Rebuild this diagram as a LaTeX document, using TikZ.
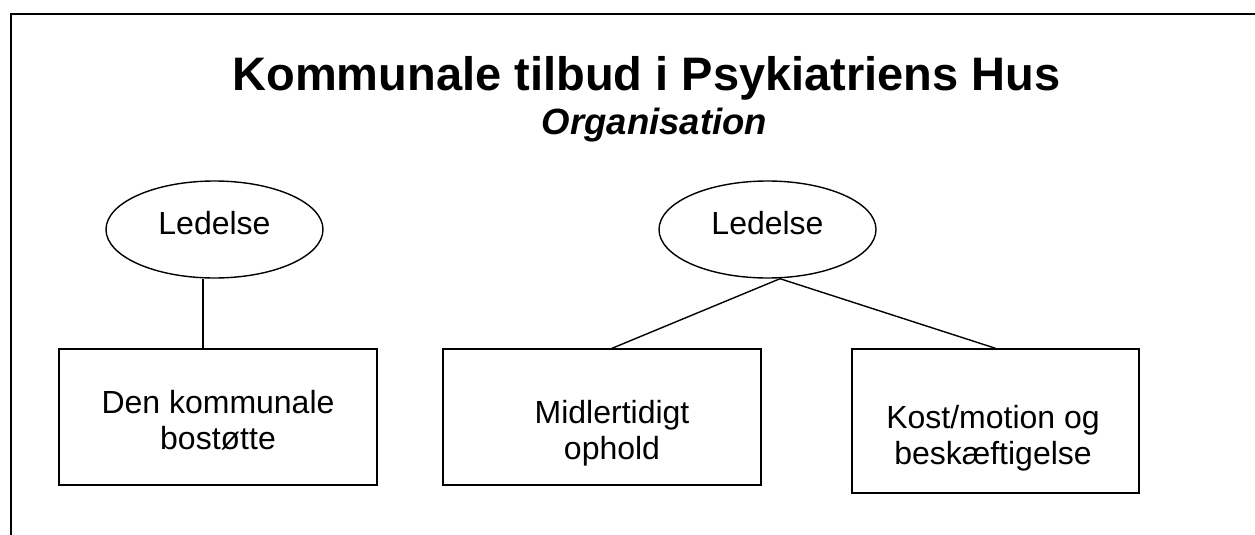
\documentclass[tikz,border=0pt]{standalone}
\usepackage{fontspec}
\setmainfont{Liberation Sans}
\usepackage{tikz}
\usetikzlibrary{shapes.geometric}

\tikzset{
  lead/.style={draw, ellipse, line width=1.4pt, minimum width=217pt, minimum height=97pt,
    inner sep=0pt, text depth=14pt, font=\fontsize{32}{36}\selectfont},
  unit/.style={draw, rectangle, line width=1.4pt, inner sep=0pt},
  unittext/.style={align=center, inner sep=0pt, font=\fontsize{32}{36}\selectfont},
  link/.style={line width=1.4pt}
}

\begin{document}
\begin{tikzpicture}[x=1pt, y=-1pt]
    \useasboundingbox (0,0) rectangle (1255,535);
    \draw[line width=2pt] (11,535) -- (11,14) -- (1255,14);

    \node[anchor=base, font=\bfseries\fontsize{47}{56}\selectfont] (title) at (646.5,90) {Kommunale tilbud i Psykiatriens Hus};
    \node[anchor=base, font=\bfseries\itshape\fontsize{36.5}{44}\selectfont] (sub) at (654.5,134) {Organisation};

    \node[lead] (l1) at (214.5,229.5) {Ledelse};
    \node[lead] (l2) at (767.5,229.5) {Ledelse};

    \node[unit, minimum width=318pt, minimum height=136pt] (bo) at (218,417) {};
    \node[unit, minimum width=318pt, minimum height=136pt] (mo) at (602,417) {};
    \node[unit, minimum width=287pt, minimum height=144pt] (km) at (995.5,421) {};

    \node[unittext] (bot) at (218,420) {Den kommunale\\bostøtte};
    \node[unittext] (mot) at (612,433) {Midlertidigt\\ophold};
    \node[unittext] (kmt) at (993,438) {Kost/motion og\\beskæftigelse};

    % Edges
    \coordinate (c1) at ([xshift=-11.5pt]l1.south);
    \coordinate (c2) at ([xshift=12.5pt]l2.south);
    \draw[link] (c1) -- (c1 |- bo.north);
    \draw[link] (c2) -- ([xshift=10pt]mo.north);
    \draw[link] (c2) -- (km.north);
\end{tikzpicture}
\end{document}
